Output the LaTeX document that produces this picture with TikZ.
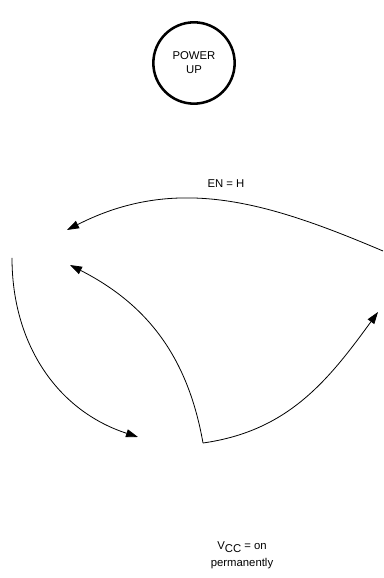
\documentclass[tikz,border=0pt]{standalone}
\usepackage{fontspec}
\setmainfont{Liberation Sans}
\usetikzlibrary{arrows.meta,positioning}

\begin{document}
\begin{tikzpicture}[
  x=0.75pt,y=0.75pt,
  state/.style={draw,circle,line width=1.9pt,minimum size=61pt,inner sep=0pt,
                align=center,font=\fontsize{8.5}{10.5}\selectfont},
  lbl/.style={align=center,font=\fontsize{8.5}{12.5}\selectfont},
  arrow/.style={-{Triangle[length=9pt,width=6pt]},line width=0.6pt},
]
\useasboundingbox (0,0) rectangle (384,578);
\node[state] (pwr) at (194,515) {POWER\\UP};
\node[lbl] (en) at (226,394) {EN = H};
\node[lbl] (vcc) at (242,23) {V\raisebox{-0.45ex}{CC} = on\\permanently};
\coordinate (topR) at (383,327);
\coordinate (topL) at (67,348);
\coordinate (leftS) at (12,320);
\coordinate (leftE) at (138,141);
\coordinate (mid) at (203,135);
\coordinate (midE) at (70,313);
\coordinate (rightE) at (378,266);
\draw[arrow] (topR) to[out=157,in=27] (topL);
\draw[arrow] (leftS) to[out=-90,in=162] (leftE);
\draw[arrow] (mid) to[out=100,in=-27] (midE);
\draw[arrow] (mid) to[out=8,in=234] (rightE);
\end{tikzpicture}
\end{document}
